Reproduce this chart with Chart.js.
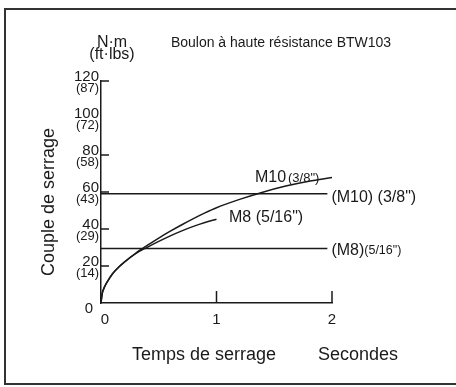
<!DOCTYPE html>
<html lang="fr">
<head>
  <meta charset="UTF-8">
  <title>Couple de serrage BTW103</title>
  <script src="https://cdn.jsdelivr.net/npm/chart.js"></script>
  <style>
    html, body { margin: 0; padding: 0; background: #fff; }
    canvas { display: block; }
  </style>
</head>
<body>
  <canvas id="torqueChart" width="456" height="387"></canvas>

  <script>
    // values (seconds, N·m)
    const m10Times  = [0, 0.01, 0.025, 0.05, 0.1, 0.15, 0.2, 0.3, 0.4, 0.5, 0.6, 0.7, 0.8, 0.9, 1.0, 1.2, 1.4, 1.6, 1.8, 2.0];
    const m10Torque = [0, 5, 7.9, 11, 15.8, 19.2, 22, 26.9, 31.1, 35.1, 38.8, 42.3, 45.6, 48.7, 51.5, 56, 59.9, 63.2, 65.8, 67.8];
    const m8Times   = [0, 0.01, 0.025, 0.05, 0.1, 0.15, 0.2, 0.3, 0.4, 0.5, 0.6, 0.7, 0.8, 0.9, 1.0];
    const m8Torque  = [0, 5, 7.9, 11, 15.8, 19.2, 22, 26.7, 30.1, 33.3, 36.3, 39.0, 41.4, 43.5, 45.3];
    const limitTimes = [0, 1.96];
    const m10Limit = 59.1;
    const m8Limit = 29.4;

    const yTicks   = [0, 20, 40, 60, 80, 100, 120];
    const yTicksFt = ['', '(14)', '(29)', '(43)', '(58)', '(72)', '(87)'];
    const yTickMarks = [20, 40, 60, 80, 120];
    const xTicks = [0, 1, 2];
    const xTickMarks = [1, 2];

    const FONT = '"Liberation Sans", Arial, sans-serif';
    const INK = '#1a1a1a';

    const toPoints = (xs, ys) => xs.map((x, i) => ({ x: x, y: ys[i] }));

    // everything that is not a data mark: border, ticks, labels
    const decorations = {
      id: 'decorations',
      beforeDraw(chart) {
        const c = chart.ctx;
        c.save();
        c.fillStyle = '#fff';
        c.fillRect(0, 0, chart.width, chart.height);
        c.strokeStyle = '#333';
        c.lineWidth = 2;
        c.beginPath();
        c.moveTo(chart.width + 5, 9);
        c.lineTo(5, 9);
        c.lineTo(5, 384);
        c.lineTo(chart.width + 5, 384);
        c.stroke();
        c.restore();
      },
      afterDraw(chart) {
        const c = chart.ctx;
        const xs = chart.scales.x, ys = chart.scales.y;
        const x0 = xs.getPixelForValue(0), y0 = ys.getPixelForValue(0);
        c.save();
        c.strokeStyle = INK;
        c.fillStyle = INK;
        c.lineWidth = 1.5;

        // tick marks
        c.beginPath();
        yTickMarks.forEach(v => {
          const y = ys.getPixelForValue(v);
          c.moveTo(x0, y); c.lineTo(x0 + 8, y);
        });
        xTickMarks.forEach(v => {
          const x = xs.getPixelForValue(v);
          c.moveTo(x, y0); c.lineTo(x, y0 - 12);
        });
        c.stroke();

        // y tick labels: N·m on top, ft·lbs below
        c.textAlign = 'right';
        c.textBaseline = 'alphabetic';
        yTicks.forEach((v, i) => {
          const y = ys.getPixelForValue(v);
          if (v === 0) {
            c.font = '15px ' + FONT;
            c.fillText('0', 93, y + 10);
            return;
          }
          c.font = '15px ' + FONT;
          c.fillText(String(v), 99, y);
          c.font = '13px ' + FONT;
          c.fillText(yTicksFt[i], 99, y + 11);
        });

        // x tick labels
        c.textAlign = 'center';
        c.font = '15px ' + FONT;
        xTicks.forEach(v => {
          const x = xs.getPixelForValue(v) + (v === 0 ? 4 : 0);
          c.fillText(String(v), x, y0 + 21);
        });

        // units and titles
        c.font = '16px ' + FONT;
        c.fillText('N·m', 112, 47);
        c.fillText('(ft·lbs)', 112, 59);
        c.font = '14px ' + FONT;
        c.fillText('Boulon à haute résistance BTW103', 281, 47);
        c.font = '18px ' + FONT;
        c.fillText('Temps de serrage', 204, 360);
        c.fillText('Secondes', 358, 360);
        c.save();
        c.translate(54, 202);
        c.rotate(-Math.PI / 2);
        c.fillText('Couple de serrage', 0, 0);
        c.restore();

        // curve labels
        c.textAlign = 'left';
        c.font = '16px ' + FONT;
        c.fillText('M10', 255, 182);
        c.font = '13px ' + FONT;
        c.fillText('(3/8")', 288, 182);
        c.font = '16px ' + FONT;
        c.fillText('M8 (5/16")', 229, 222);

        const endX = xs.getPixelForValue(limitTimes[1]) + 4;
        c.textBaseline = 'middle';
        c.fillText('(M10) (3/8")', endX, ys.getPixelForValue(m10Limit) + 4);
        c.fillText('(M8)', endX, ys.getPixelForValue(m8Limit) + 2);
        const w = c.measureText('(M8)').width;
        c.font = '12.5px ' + FONT;
        c.fillText('(5/16")', endX + w, ys.getPixelForValue(m8Limit) + 2);
        c.restore();
      }
    };

    const lineStyle = {
      borderColor: INK,
      borderWidth: 1.5,
      pointRadius: 0,
      fill: false,
      clip: false
    };

    new Chart(document.getElementById('torqueChart'), {
      type: 'line',
      data: {
        datasets: [
          Object.assign({ label: 'M10 (3/8")', data: toPoints(m10Times, m10Torque), cubicInterpolationMode: 'monotone' }, lineStyle),
          Object.assign({ label: 'M8 (5/16")', data: toPoints(m8Times, m8Torque), cubicInterpolationMode: 'monotone' }, lineStyle),
          Object.assign({ label: '(M10) (3/8")', data: toPoints(limitTimes, [m10Limit, m10Limit]) }, lineStyle),
          Object.assign({ label: '(M8)(5/16")', data: toPoints(limitTimes, [m8Limit, m8Limit]) }, lineStyle)
        ]
      },
      options: {
        responsive: false,
        animation: false,
        layout: { padding: { left: 101, right: 124, top: 81, bottom: 84 } },
        plugins: {
          legend: { display: false },
          tooltip: { enabled: false }
        },
        scales: {
          x: {
            type: 'linear',
            min: 0,
            max: 2,
            grid: { display: false, drawTicks: false },
            ticks: { display: false },
            border: { display: true, color: INK, width: 1.5 }
          },
          y: {
            min: 0,
            max: 120,
            grid: { display: false, drawTicks: false },
            ticks: { display: false },
            border: { display: true, color: INK, width: 1.5 }
          }
        }
      },
      plugins: [decorations]
    });
  </script>
</body>
</html>
